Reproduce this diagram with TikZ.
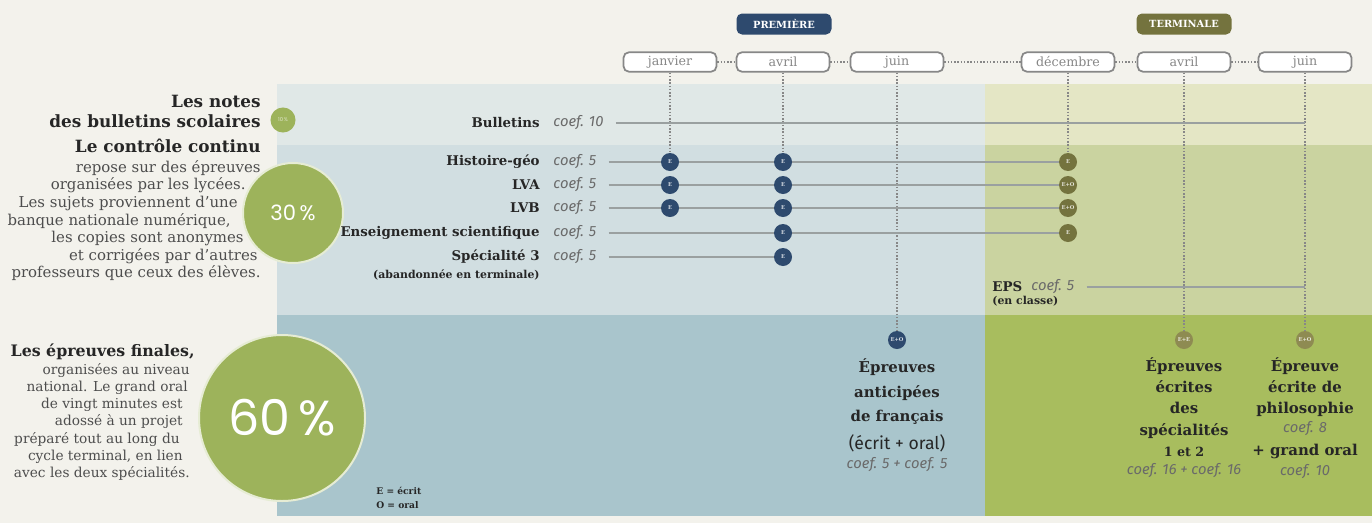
\documentclass[tikz,border=0pt]{standalone}
\usepackage{fontspec}
\setmainfont{DejaVu Serif}
\newfontfamily\coeffont{Fira Sans}
\newfontfamily\pctfont{Poppins}
\usetikzlibrary{positioning}

\definecolor{paper}{HTML}{F3F2EC}
\definecolor{bulP}{HTML}{E0E8E7}
\definecolor{bulT}{HTML}{E4E6C5}
\definecolor{ccP}{HTML}{D1DEE1}
\definecolor{ccT}{HTML}{CAD3A0}
\definecolor{finP}{HTML}{A9C5CC}
\definecolor{finT}{HTML}{A8BD5E}
\definecolor{pct}{HTML}{9DB35B}
\definecolor{pctrim}{HTML}{E6ECD4}
\definecolor{navy}{HTML}{2E4A6E}
\definecolor{olive}{HTML}{74733E}
\definecolor{olivelt}{HTML}{8E8B52}
\definecolor{ink}{HTML}{262626}
\definecolor{inkgray}{HTML}{4D4D4D}
\definecolor{coefgray}{HTML}{6A6A6A}
\definecolor{rule}{HTML}{9AA0A0}
\definecolor{boxgray}{HTML}{878787}

% blank box that keeps a ragged line short
\newcommand\pad[1]{\hbox to #1{}}

\pgfdeclarelayer{bands}
\pgfdeclarelayer{links}
\pgfsetlayers{bands,links,main}

\tikzset{
  month/.style = {draw=boxgray, fill=white, line width=0.35mm, rounded corners=1.1mm,
    minimum width=18.6mm, minimum height=3.9mm, inner sep=0pt, text=boxgray,
    font=\fontsize{7.2}{8}\selectfont},
  year/.style = {fill=#1, rounded corners=1.1mm, minimum width=19mm, minimum height=4.2mm,
    inner sep=0pt, text=white, font=\bfseries\fontsize{5.6}{6}\selectfont},
  pastille/.style = {circle, fill=#1, minimum size=3.6mm, inner sep=0pt, text=white!80!#1,
    font=\bfseries\fontsize{3}{3}\selectfont},
  subj/.style = {anchor=east, inner sep=0pt, text=ink, font=\bfseries\fontsize{7.6}{9}\selectfont},
  note/.style = {inner sep=0pt, text=ink, font=\bfseries\fontsize{6.2}{7}\selectfont},
  coef/.style = {anchor=west, inner sep=0pt, text=coefgray, font=\coeffont\itshape\fontsize{8.4}{9}\selectfont},
  row/.style = {rule, line width=0.25mm, shorten <=2.4mm},
  vline/.style = {boxgray, line width=0.3mm, densely dotted},
  pctdisc/.style = {circle, fill=pct, draw=#1, line width=0.4mm, inner sep=0pt, text=white},
  head/.style = {inner sep=0pt, align=right, text=ink, font=\bfseries\fontsize{9.6}{11.4}\selectfont},
  body/.style = {inner sep=0pt, align=right, text=inkgray, font=\fontsize{8.5}{10}\selectfont},
  final/.style = {inner sep=0pt, align=center, text=ink, font=\bfseries\fontsize{8.5}{#1}\selectfont},
}

\begin{document}
\begin{tikzpicture}[x=0.2mm, y=-0.2mm, node distance=1mm]
\useasboundingbox (0,0) rectangle (1372,523);

% bands: bulletins, controle continu, epreuves finales
\begin{pgfonlayer}{bands}
\fill[paper] (0,0) rectangle (1372,523);
\fill[bulP] (277,84) rectangle (985,145);
\fill[bulT] (985,84) rectangle (1372,145);
\fill[ccP] (277,145) rectangle (985,315);
\fill[ccT] (985,145) rectangle (1372,315);
\fill[finP] (277,315) rectangle (985,516);
\fill[finT] (985,315) rectangle (1372,516);
\end{pgfonlayer}

% calendar
\node[year=navy] (prem) at (784,24) {PREMIÈRE};
\node[year=olive] (term) at (1184,24) {TERMINALE};
\node[month] (jan) at (670,62) {janvier};
\node[month] (avrP) at (783,62) {avril};
\node[month] (juinP) at (897,62) {juin};
\node[month] (dec) at (1068,62) {décembre};
\node[month] (avrT) at (1184,62) {avril};
\node[month] (juinT) at (1305,62) {juin};

% left column
\node[head, anchor=north east] (notes) at (261,95) {Les notes\\des bulletins scolaires};
\node[pctdisc=pct, minimum size=4.6mm, font=\pctfont\fontsize{3}{3}\selectfont, text=white!70!pct] (p10) at (283,120) {10\,\%};
\node[head, anchor=north east] (cc) at (261,139) {Le contrôle continu};
\node[body, anchor=north east] (ccbody) at (261,160) {repose sur des épreuves\\
  organisées par les lycées.\pad{3mm}\\
  Les sujets proviennent d’une\pad{4.6mm}\\
  banque nationale numérique,\pad{6mm}\\
  les copies sont anonymes\pad{3.4mm}\\
  et corrigées par d’autres\pad{0.6mm}\\
  professeurs que ceux des élèves.};
\node[pctdisc=pctrim, minimum size=20mm, font=\pctfont\fontsize{12}{13}\selectfont] (p30) at (293,213) {30\,\%};
\node[head, anchor=north east, font=\bfseries\fontsize{9}{11}\selectfont] (fin) at (195,343) {Les épreuves finales,};
\node[body, anchor=north east, font=\fontsize{7.8}{9.8}\selectfont] (finbody) at (190,363) {organisées au niveau\\
  national. Le grand oral\pad{0.4mm}\\
  de vingt minutes est\pad{1.4mm}\\
  adossé à un projet\pad{1.4mm}\\
  préparé tout au long du\pad{2mm}\\
  cycle terminal, en lien\pad{1.4mm}\\
  avec les deux spécialités.};
\node[pctdisc=pctrim, minimum size=33.2mm, font=\pctfont\fontsize{28}{29}\selectfont] (p60) at (282,418) {60\,\%};
\node[note, anchor=north west, align=left, font=\bfseries\fontsize{5.2}{8}\selectfont] (legend) at (376,487) {E = écrit\\O = oral};

% subjects
\node[subj] (bul) at (540,123) {Bulletins};
\node[coef] (bul-c) at (553,123) {coef. 10};
\foreach \id/\txt/\yy in {hg/Histoire-géo/162, lva/LVA/185, lvb/LVB/208,
    sci/Enseignement scientifique/233, spe/Spécialité 3/257}{
  \node[subj] (\id) at (540,\yy) {\txt};
  \node[coef] (\id-c) at (553,\yy) {coef. 5};
}
\node[note, anchor=north east] (spe-n) at (540,269) {(abandonnée en terminale)};
\node[subj, anchor=west] (eps) at (992,287) {EPS};
\node[coef] (eps-c) at (1031,287) {coef. 5};
\node[note, anchor=north west] (eps-n) at (992,296) {(en classe)};
\coordinate (bul-end) at (1305,123);
\coordinate (eps-end) at (1305,287);

% controle continu
\node[pastille=navy] (hg-jan) at (670,162) {E};
\node[pastille=navy] (lva-jan) at (670,185) {E};
\node[pastille=navy] (lvb-jan) at (670,208) {E};
\node[pastille=navy] (hg-avr) at (783,162) {E};
\node[pastille=navy] (lva-avr) at (783,185) {E};
\node[pastille=navy] (lvb-avr) at (783,208) {E};
\node[pastille=navy] (sci-avr) at (783,233) {E};
\node[pastille=navy] (spe-avr) at (783,257) {E};
\node[pastille=olive] (hg-dec) at (1068,162) {E};
\node[pastille=olive] (lva-dec) at (1068,185) {E+O};
\node[pastille=olive] (lvb-dec) at (1068,208) {E+O};
\node[pastille=olive] (sci-dec) at (1068,233) {E};

% epreuves finales
\node[pastille=navy] (fr) at (897,340) {E+O};
\node[pastille=olivelt] (spe12) at (1184,340) {E+E};
\node[pastille=olivelt] (phi) at (1305,340) {E+O};

\node[final=14.2pt, below=1.7mm of fr] (fr-t) {Épreuves\\anticipées\\de français};
\node[inner sep=0pt, text=ink, font=\coeffont\fontsize{10}{11}\selectfont, below=1.8mm of fr-t] (fr-p) {(écrit + oral)};
\node[coef, below=1mm of fr-p] (fr-c) {coef. 5 + coef. 5};

\node[final=12.2pt, below=1.5mm of spe12] (spe12-t) {Épreuves\\écrites\\des\\spécialités};
\node[final=8pt, font=\bfseries\fontsize{7.2}{8}\selectfont, below=1.6mm of spe12-t] (spe12-n) {1 et 2};
\node[coef, below=1.2mm of spe12-n] (spe12-c) {coef. 16 + coef. 16};

\node[final=12.2pt, below=1.5mm of phi] (phi-t) {Épreuve\\écrite de\\philosophie};
\node[coef, below=0.8mm of phi-t] (phi-c) {coef. 8};
\node[final=8pt, below=1.5mm of phi-c] (phi-o) {+ grand oral};
\node[coef, below=0.9mm of phi-o] (phi-c2) {coef. 10};

% connectors
\begin{pgfonlayer}{links}
\draw[vline] (jan) -- (avrP) -- (juinP) -- (dec) -- (avrT) -- (juinT);
\draw[vline] (jan) -- (hg-jan);
\draw[vline] (avrP) -- (hg-avr);
\draw[vline] (juinP) -- (fr);
\draw[vline] (dec) -- (hg-dec);
\draw[vline] (avrT) -- (spe12);
\draw[vline] (juinT) -- (phi);
\draw[row] (bul-c.east) -- (bul-end);
\draw[row] (hg-c.east) -- (hg-dec);
\draw[row] (lva-c.east) -- (lva-dec);
\draw[row] (lvb-c.east) -- (lvb-dec);
\draw[row] (sci-c.east) -- (sci-dec);
\draw[row] (spe-c.east) -- (spe-avr);
\draw[row] (eps-c.east) -- (eps-end);
\end{pgfonlayer}

\end{tikzpicture}
\end{document}
